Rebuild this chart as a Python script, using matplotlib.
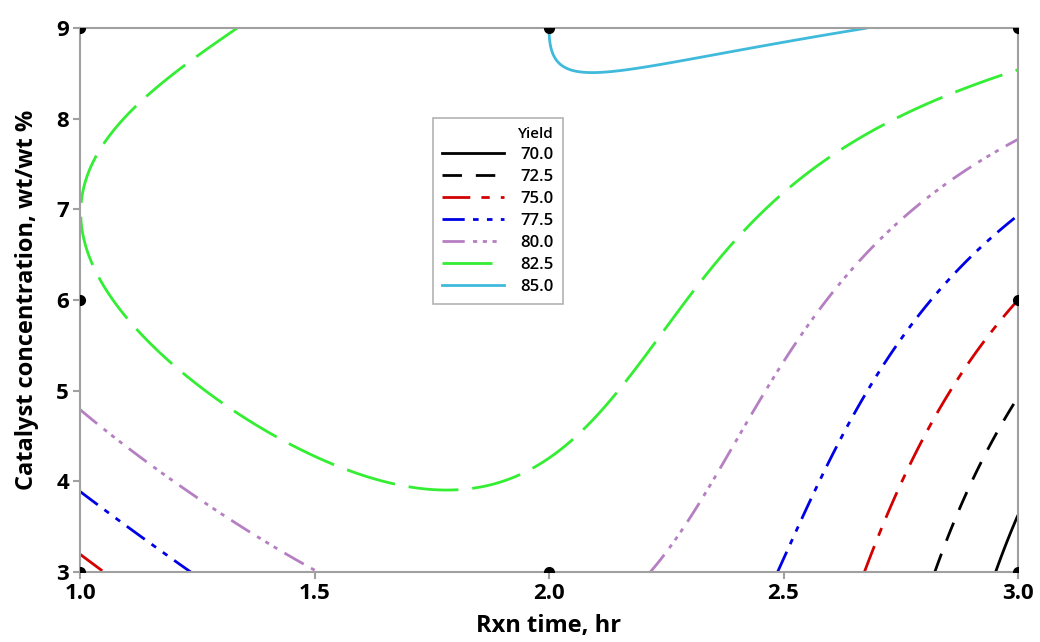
import numpy as np
import matplotlib
matplotlib.use("Agg")
import matplotlib.pyplot as plt
from matplotlib.lines import Line2D

plt.rcParams['font.family'] = ['Open Sans', 'DejaVu Sans']

# design points (3x3 factorial) and yield
rxn_time = [1.0, 2.0, 3.0]
catalyst = [3.0, 6.0, 9.0]
yield_grid = [[74.2, 81.0, 69.0],   # catalyst 3
              [82.0, 84.0, 75.0],   # catalyst 6
              [80.3, 85.0, 84.1]]   # catalyst 9
# runs shown as dots on the plot (the centre point is not drawn)
run_time = [1.0, 1.0, 1.0, 2.0, 2.0, 3.0, 3.0, 3.0]
run_cat = [3.0, 6.0, 9.0, 3.0, 9.0, 3.0, 6.0, 9.0]

levels = [70.0, 72.5, 75.0, 77.5, 80.0, 82.5, 85.0]
colors = ['black', 'black', '#d40000', '#0000e6', '#b57fc2', '#33ee33', '#3fbadb']
dashes = [None, (7, 5), (10, 4, 3, 4), (8, 3, 2, 3, 2, 3), (8, 3, 1.5, 2, 1.5, 2, 1.5, 3),
          (18, 5), None]

# fit full biquadratic model to the design points
X, Y = np.meshgrid(rxn_time, catalyst)
Z = np.array(yield_grid)


def terms(x, y):
    u = x - 2.0
    v = (y - 6.0) / 3.0
    return np.stack([np.ones_like(u), u, v, u**2, v**2, u*v, u**2*v, u*v**2, u**2*v**2], -1)


coef, *_ = np.linalg.lstsq(terms(X.ravel(), Y.ravel()), Z.ravel(), rcond=None)

xs = np.linspace(1, 3, 300)
ys = np.linspace(3, 9, 300)
XX, YY = np.meshgrid(xs, ys)
ZZ = terms(XX, YY) @ coef

fig = plt.figure(figsize=(10.4, 6.42), dpi=100)
ax = fig.add_axes([80/1040, 1 - 572/642, (1018 - 80)/1040, (572 - 28)/642])

handles = []
for lev, c, d in zip(levels, colors, dashes):
    cs = ax.contour(XX, YY, ZZ, levels=[lev], colors=[c], linewidths=2.0)
    if d is not None:
        cs.set_linestyle([(0, d)])
    ls = '-' if d is None else (0, d)
    handles.append(Line2D([], [], color=c, lw=2.0, linestyle=ls, label='%.1f' % lev))

# design points (clipped at the frame)
ax.plot(run_time, run_cat, 'o', color='black', ms=7, zorder=5)

ax.set_xlim(1, 3)
ax.set_ylim(3, 9)
ax.set_xticks([1.0, 1.5, 2.0, 2.5, 3.0])
ax.set_xticklabels(['1.0', '1.5', '2.0', '2.5', '3.0'])
ax.set_yticks([3, 4, 5, 6, 7, 8, 9])
for lab in ax.get_xticklabels() + ax.get_yticklabels():
    lab.set_fontsize(16)
    lab.set_fontweight('bold')
ax.tick_params(color='#a0a0a0', length=5, width=1.5)
ax.tick_params(axis='x', pad=3)
ax.tick_params(axis='y', pad=3)
for s in ax.spines.values():
    s.set_color('#a0a0a0')
    s.set_linewidth(1.5)

ax.set_xlabel('Rxn time, hr', fontsize=17, fontweight='bold', labelpad=7)
ax.set_ylabel('Catalyst concentration, wt/wt %', fontsize=17, fontweight='bold', labelpad=12)

leg = ax.legend(handles=handles, title='Yield', loc='upper left',
                bbox_to_anchor=((433 - 80)/938, 1 - (118 - 28)/544), borderaxespad=0,
                prop={'size': 12, 'weight': 'semibold'}, title_fontsize=11,
                frameon=True, fancybox=False,
                handlelength=3.7, labelspacing=0.36, borderpad=0.55, handletextpad=1.0)
leg.get_title().set_fontweight('semibold')
leg.get_frame().set_edgecolor('#a0a0a0')
leg.get_frame().set_linewidth(1.2)
leg._legend_box.align = 'right'

fig.savefig('out.png', dpi=100)
